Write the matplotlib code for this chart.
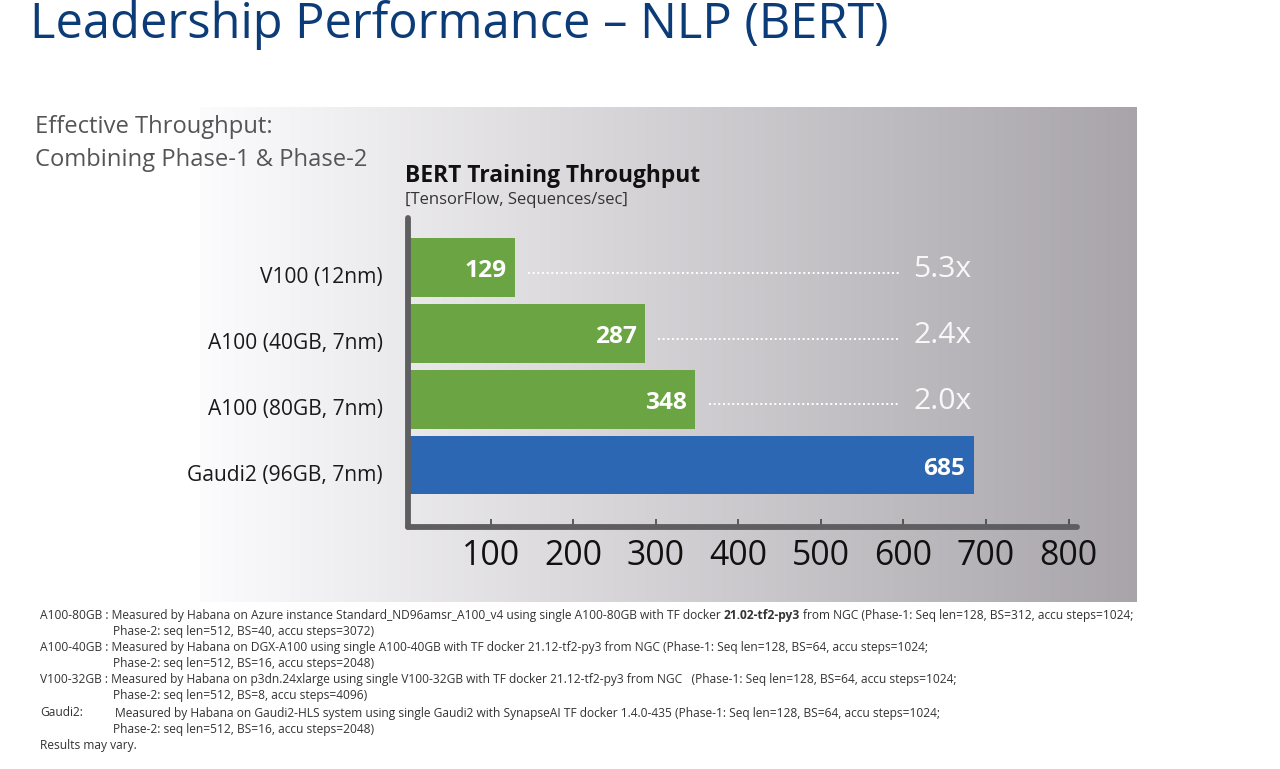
import matplotlib
matplotlib.use("Agg")
import matplotlib.pyplot as plt
from matplotlib.transforms import ScaledTranslation
import numpy as np

# ---------------- data ----------------
categories = ["V100 (12nm)", "A100 (40GB, 7nm)", "A100 (80GB, 7nm)", "Gaudi2 (96GB, 7nm)"]
throughput = [129, 287, 348, 685]
speedup_labels = ["5.3x", "2.4x", "2.0x"]
bar_colors = ["#6ba443", "#6ba443", "#6ba443", "#2b67b3"]
x_ticks = [100, 200, 300, 400, 500, 600, 700, 800]

title = "Leadership Performance \u2013 NLP (BERT)"
side_note = ["Effective Throughput:", "Combining Phase-1 & Phase-2"]
chart_title = "BERT Training Throughput"
chart_subtitle = "[TensorFlow, Sequences/sec]"

footnotes = [
    ("A100-80GB : Measured by Habana on Azure instance Standard_ND96amsr_A100_v4 using single A100-80GB with TF docker",
     "21.02-tf2-py3", "from NGC (Phase-1: Seq len=128, BS=312, accu steps=1024;"),
    "Phase-2: seq len=512, BS=40, accu steps=3072)",
    "A100-40GB : Measured by Habana on DGX-A100 using single A100-40GB with TF docker 21.12-tf2-py3 from NGC (Phase-1: Seq len=128, BS=64, accu steps=1024;",
    "Phase-2: seq len=512, BS=16, accu steps=2048)",
    "V100-32GB : Measured by Habana on p3dn.24xlarge using single V100-32GB with TF docker 21.12-tf2-py3 from NGC   (Phase-1: Seq len=128, BS=64, accu steps=1024;",
    "Phase-2: seq len=512, BS=8, accu steps=4096)",
    ("Gaudi2:", "Measured by Habana on Gaudi2-HLS system using single Gaudi2 with SynapseAI TF docker 1.4.0-435 (Phase-1: Seq len=128, BS=64, accu steps=1024;"),
    "Phase-2: seq len=512, BS=16, accu steps=2048)",
    "Results may vary.",
]

# ---------------- figure ----------------
W, H = 1280, 769
plt.rcParams["font.family"] = ["Open Sans", "DejaVu Sans"]
fig = plt.figure(figsize=(W / 100, H / 100), dpi=100)
fig.patch.set_facecolor("white")
renderer = fig.canvas.get_renderer()


def fx(px):
    return px / W


def fy(py):
    return 1 - py / H


def text_width(s, size, weight="normal"):
    t = fig.text(0, 0, s, fontsize=size, weight=weight)
    w = t.get_window_extent(renderer).width
    t.remove()
    return w


def fit(s, width_px, weight="normal"):
    return 20 * width_px / text_width(s, 20, weight)


# gradient panel
bg = fig.add_axes([fx(200), fy(602), fx(1137 - 200), (602 - 107) / H], zorder=0)
left_c = np.array([0.988, 0.986, 0.992])
right_c = np.array([0.660, 0.645, 0.668])
t = np.linspace(0, 1, 512)[None, :, None]
grad = left_c * (1 - t) + right_c * t
bg.imshow(grad, aspect="auto", extent=[0, 1, 0, 1])
bg.set_axis_off()

# main axes
px_per_unit = 0.8257
x0_px, xmax = 408, 810
ax = fig.add_axes([fx(x0_px), fy(527), fx(xmax * px_per_unit), (527 - 218) / H], zorder=2)
ax.patch.set_alpha(0)
ypos = np.arange(len(categories))
ax.barh(ypos, throughput, height=0.89, color=bar_colors, zorder=2)
ax.set_xlim(0, xmax)
ax.set_ylim(3.94, -0.75)

for s in ["top", "right"]:
    ax.spines[s].set_visible(False)
for s in ["left", "bottom"]:
    ax.spines[s].set_linewidth(4.2)
    ax.spines[s].set_color("#5e5e60")
    ax.spines[s].set_capstyle("round")

ax.set_xticks(x_ticks)
ax.set_xticklabels([str(v) for v in x_ticks])
ax.tick_params(axis="x", direction="in", length=6, width=1.1, color="#3a3a3a",
               pad=8.5, labelsize=fit("100", 58), labelcolor="#111111")
ax.set_yticks(ypos)
ax.set_yticklabels(categories)
ax.tick_params(axis="y", length=0, pad=18, labelsize=fit("Gaudi2 (96GB, 7nm)", 196),
               labelcolor="#1a1a1a")
shift = ScaledTranslation(0, -7.5 / 100, fig.dpi_scale_trans)
for lbl in ax.get_yticklabels():
    lbl.set_transform(lbl.get_transform() + shift)

val_fs = fit("129", 42, "bold")
for i, v in enumerate(throughput):
    ax.annotate(str(v), xy=(v, i), xytext=(-6, -2.5), textcoords="offset points",
                ha="right", va="center", color="white", weight="bold", fontsize=val_fs, zorder=3)

ratio_fs = fit("5.3x", 58)
for i, lab in enumerate(speedup_labels):
    ax.plot([throughput[i] + 16, 596], [i + 0.08, i + 0.08], linestyle=(0, (1, 1.4)),
            color="white", lw=1.4, zorder=3)
    ax.annotate(lab, xy=(612, i), xytext=(0, -1.5), textcoords="offset points",
                ha="left", va="center", color="#f8f8f8", fontsize=ratio_fs, zorder=3)

# ---------------- texts ----------------
fig.text(fx(30), fy(37.5), title, fontsize=fit(title, 858), color="#0c3c78", va="baseline", ha="left")
sn_fs = fit(side_note[1], 331)
fig.text(fx(35), fy(127), side_note[0], fontsize=sn_fs, color="#555555", va="center")
fig.text(fx(35), fy(160), side_note[1], fontsize=sn_fs, color="#555555", va="center")
fig.text(fx(405), fy(176), chart_title, fontsize=fit(chart_title, 295, "bold"), weight="bold",
         color="#111111", va="center", zorder=3)
fig.text(fx(405), fy(200), chart_subtitle, fontsize=fit(chart_subtitle, 223), color="#333333",
         va="center", zorder=3)

fn_fs = fit(footnotes[2], 888)
fn_y = [616, 632, 648, 664, 680, 696, 713, 729, 746]
fn_color = "#333333"
space_px = text_width("a a", fn_fs) - text_width("aa", fn_fs)
for y, item in zip(fn_y, footnotes):
    if isinstance(item, tuple) and len(item) == 3:
        x = 40
        for k, part in enumerate(item):
            w = "bold" if k == 1 else "normal"
            tt = fig.text(fx(x), fy(y), part, fontsize=fn_fs, weight=w, color=fn_color, va="center")
            x += tt.get_window_extent(renderer).width + space_px
    elif isinstance(item, tuple):
        fig.text(fx(40), fy(y), item[0], fontsize=fn_fs, color=fn_color, va="center")
        fig.text(fx(115), fy(y), item[1], fontsize=fn_fs, color=fn_color, va="center")
    elif item.startswith("Phase-2"):
        fig.text(fx(113), fy(y), item, fontsize=fn_fs, color=fn_color, va="center")
    else:
        fig.text(fx(40), fy(y), item, fontsize=fn_fs, color=fn_color, va="center")

fig.savefig("out.png", dpi=100, facecolor="white")
